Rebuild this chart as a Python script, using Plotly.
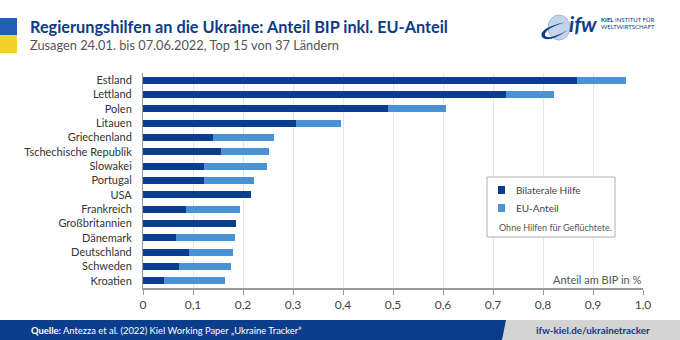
import plotly.graph_objects as go

countries = ["Estland", "Lettland", "Polen", "Litauen", "Griechenland",
             "Tschechische Republik", "Slowakei", "Portugal", "USA", "Frankreich",
             "Großbritannien", "Dänemark", "Deutschland", "Schweden", "Kroatien"]
bilateral = [0.868, 0.726, 0.490, 0.305, 0.139, 0.155, 0.121, 0.121, 0.216, 0.085,
             0.186, 0.065, 0.091, 0.072, 0.042]
total = [0.966, 0.822, 0.606, 0.396, 0.261, 0.251, 0.247, 0.221, 0.216, 0.193,
         0.186, 0.183, 0.180, 0.175, 0.163]
eu_share = [round(t - b, 3) for t, b in zip(total, bilateral)]
tick_vals = [0, 0.1, 0.2, 0.3, 0.4, 0.5, 0.6, 0.7, 0.8, 0.9, 1.0]
tick_text = ["0", "0,1", "0,2", "0,3", "0,4", "0,5", "0,6", "0,7", "0,8", "0,9", "1,0"]

DARK = "#0b3d8e"
LIGHT = "#4a92d4"
FONT = "Lato"

W, H = 680, 340
L, R, T, B = 143, 37, 73, 52
PW, PH = W - L - R, H - T - B


def px(x):
    return (x - L) / PW


def py(y):
    return (H - B - y) / PH


fig = go.Figure()
fig.add_trace(go.Bar(y=countries, x=bilateral, orientation="h", name="Bilaterale Hilfe",
                     marker=dict(color=DARK, line=dict(width=0)), width=0.5))
fig.add_trace(go.Bar(y=countries, x=eu_share, orientation="h", name="EU-Anteil",
                     marker=dict(color=LIGHT, line=dict(width=0)), width=0.5))

shapes = []
annotations = []

# Ukraine flag
shapes.append(dict(type="rect", xref="paper", yref="paper", x0=px(0), x1=px(17),
                   y0=py(35), y1=py(18), fillcolor="#1f5fb5", line=dict(width=0), layer="above"))
shapes.append(dict(type="rect", xref="paper", yref="paper", x0=px(0), x1=px(17),
                   y0=py(53), y1=py(35), fillcolor="#f5cf2a", line=dict(width=0), layer="above"))

# Title / subtitle
annotations.append(dict(xref="paper", yref="paper", x=px(28), y=py(27), xanchor="left", yanchor="middle",
                        text="<b>Regierungshilfen an die Ukraine: Anteil BIP inkl. EU-Anteil</b>",
                        showarrow=False, font=dict(family=FONT, size=16.3, color="#0d3b85")))
annotations.append(dict(xref="paper", yref="paper", x=px(28), y=py(45), xanchor="left", yanchor="middle",
                        text="Zusagen 24.01. bis 07.06.2022, Top 15 von 37 Ländern",
                        showarrow=False, font=dict(family=FONT, size=12.8, color="#555555")))

# Logo (approximation)
shapes.append(dict(type="circle", xref="paper", yref="paper", x0=px(548), x1=px(570),
                   y0=py(40), y1=py(15), fillcolor="#c3d5ea", line=dict(color="#9db9dc", width=1), layer="above"))
shapes.append(dict(type="path", xref="paper", yref="paper",
                   path=f"M {px(566)},{py(22)} Q {px(538)},{py(28)} {px(542)},{py(37)} "
                        f"Q {px(548)},{py(44)} {px(568)},{py(30)} Q {px(550)},{py(40)} {px(545)},{py(36)} "
                        f"Q {px(543)},{py(29)} {px(566)},{py(22)} Z",
                   fillcolor="#0d3b85", line=dict(width=0), layer="above"))
annotations.append(dict(xref="paper", yref="paper", x=px(567), y=py(24), xanchor="left", yanchor="middle",
                        text="<b><i>ifw</i></b>", showarrow=False,
                        font=dict(family=FONT, size=21, color="#0d3b85")))
annotations.append(dict(xref="paper", yref="paper", x=px(599), y=py(20), xanchor="left", yanchor="middle",
                        text="<b>KIEL</b> INSTITUT FÜR", showarrow=False,
                        font=dict(family=FONT, size=6, color="#0d3b85")))
annotations.append(dict(xref="paper", yref="paper", x=px(599), y=py(27), xanchor="left", yanchor="middle",
                        text="WELTWIRTSCHAFT", showarrow=False,
                        font=dict(family=FONT, size=6, color="#0d3b85")))

# Legend box (manual)
shapes.append(dict(type="rect", xref="paper", yref="paper", x0=px(487), x1=px(615),
                   y0=py(237), y1=py(177), fillcolor="white", line=dict(color="#b0b0b0", width=1), layer="above"))
shapes.append(dict(type="rect", xref="paper", yref="paper", x0=px(498), x1=px(505),
                   y0=py(194), y1=py(186), fillcolor=DARK, line=dict(width=0), layer="above"))
shapes.append(dict(type="rect", xref="paper", yref="paper", x0=px(498), x1=px(505),
                   y0=py(212), y1=py(204), fillcolor=LIGHT, line=dict(width=0), layer="above"))
annotations.append(dict(xref="paper", yref="paper", x=px(514), y=py(190), xanchor="left", yanchor="middle",
                        text="Bilaterale Hilfe", showarrow=False, font=dict(family=FONT, size=10, color="#444")))
annotations.append(dict(xref="paper", yref="paper", x=px(514), y=py(208), xanchor="left", yanchor="middle",
                        text="EU-Anteil", showarrow=False, font=dict(family=FONT, size=10, color="#444")))
annotations.append(dict(xref="paper", yref="paper", x=px(497), y=py(227), xanchor="left", yanchor="middle",
                        text="Ohne Hilfen für Geflüchtete.", showarrow=False, font=dict(family=FONT, size=9, color="#555")))

# Axis title
annotations.append(dict(xref="paper", yref="paper", x=1, y=py(279), xanchor="right", yanchor="middle",
                        text="Anteil am BIP in %", showarrow=False, font=dict(family=FONT, size=11, color="#555")))

# Footer
shapes.append(dict(type="rect", xref="paper", yref="paper", x0=px(0), x1=px(680),
                   y0=py(340), y1=py(320), fillcolor="#d4d4d4", line=dict(width=0), layer="above"))
shapes.append(dict(type="path", xref="paper", yref="paper",
                   path=f"M {px(0)},{py(320)} L {px(506)},{py(320)} L {px(502)},{py(340)} L {px(0)},{py(340)} Z",
                   fillcolor="#0a3d8c", line=dict(width=0), layer="above"))
annotations.append(dict(xref="paper", yref="paper", x=px(29), y=py(330), xanchor="left", yanchor="middle",
                        text="<b>Quelle:</b> Antezza et al. (2022) Kiel Working Paper „Ukraine Tracker“",
                        showarrow=False, font=dict(family=FONT, size=9.4, color="white")))
annotations.append(dict(xref="paper", yref="paper", x=px(652), y=py(330), xanchor="right", yanchor="middle",
                        text="<b>ifw-kiel.de/ukrainetracker</b>",
                        showarrow=False, font=dict(family=FONT, size=9.8, color="#0d3b85")))

fig.update_layout(
    width=W, height=H, margin=dict(l=L, r=R, t=T, b=B, pad=0),
    barmode="stack", showlegend=False,
    paper_bgcolor="white", plot_bgcolor="white",
    font=dict(family=FONT, size=12, color="#333"),
    shapes=shapes, annotations=annotations,
    xaxis=dict(range=[0, 1.0], tickvals=tick_vals, ticktext=tick_text, showgrid=True,
               gridcolor="#e6e6e6", gridwidth=1, zeroline=False, showline=True,
               linecolor="#9a9a9a", linewidth=2, ticks="outside", ticklen=5, tickcolor="#9a9a9a",
               tickfont=dict(family=FONT, size=12, color="#444"), fixedrange=True),
    yaxis=dict(autorange=False, range=[14.5, -0.5], type="category", showgrid=False,
               showline=True, linecolor="#9a9a9a", linewidth=1, ticks="", ticklabelstandoff=8,
               tickfont=dict(family=FONT, size=11, color="#333"), fixedrange=True),
)

fig.write_html("out.html")
